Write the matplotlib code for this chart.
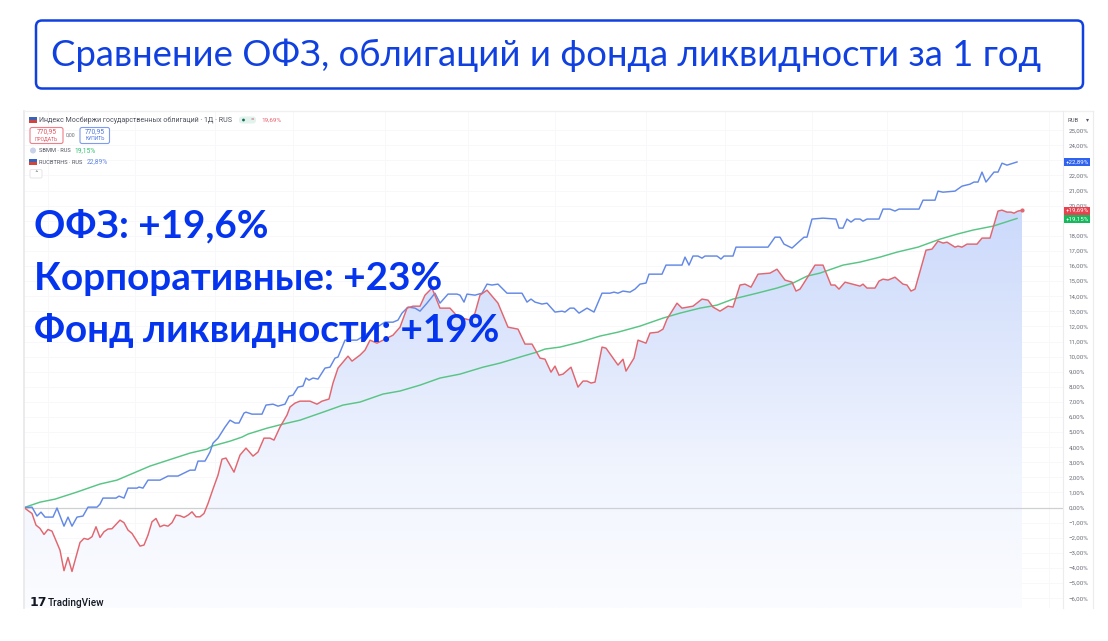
import numpy as np
import matplotlib
matplotlib.use("Agg")
import matplotlib.pyplot as plt
from matplotlib.colors import LinearSegmentedColormap
from matplotlib.patches import FancyBboxPatch, Rectangle, Circle

# bar number / percent change
ofz_bars = [0,2,3,4,5,6,7,9,10,11,12,13,14,15,16,17,18,19,20,21,22,24,25,26,27,29,30,31,32,33,34,35,36,37,38,39,40,41,42,43,44,45,46,47.25,48.5,49.5,50.5,52.5,54,55.5,57.25,58.5,60,61.5,62.5,64,65.75,66.5,67.75,69,71.5,73.25,74.5,76.25,77.25,78.5,81,82,84,85.25,86.5,88.25,89.75,92.25,94,95.75,97.25,99,100.25,102,104,106.5,108.5,111.5,112.75,114,115.75,118.5,121,123.5,125.25,127,129,130.25,131.75,132.75,133.75,134.75,136.75,138.5,139.75,140.75,141.75,142.75,144.5,145.5,148.5,149.75,150.5,152.5,153.5,155.5,156.5,158.5,159.75,160.75,163.25,164.5,167.25,169.5,171,172.25,174,176,177.25,179,180.25,181.75,183.5,186.5,188.25,190.25,192,193,194,195.75,197.75,199.75,201.75,202.75,203.75,205.25,209,209.75,210.75,212.75,213.75,214.75,216,217.75,219.75,220.75,221.75,222.75,225.5,227,228.5,229.75,230.75,232.75,233.5,234.5,235.75,238.25,239.5,241.5,243.5,244.5,245.75,246.75,247.5,248.5,249.5]
ofz_values = [0,-0.39,-1.16,-1.38,-1.78,-1.45,-1.56,-2.82,-4.18,-3.3,-4.23,-3.26,-2.31,-2.04,-2.11,-1.93,-1.27,-1.98,-1.6,-1.42,-1.4,-0.83,-1.0,-1.49,-1.71,-2.55,-2.48,-1.82,-0.94,-0.72,-1.27,-1.16,-1.23,-1.0,-0.5,-0.54,-0.65,-0.5,-0.28,-0.61,-0.61,-0.39,0.27,1.23,2.15,3.21,3.28,2.35,3.48,3.94,3.41,3.68,4.6,4.6,4.47,5.33,6.13,6.66,6.92,7.05,7.05,6.85,7.05,7.19,8.25,9.24,10.03,9.7,10.1,10.43,11.09,10.89,11.09,11.42,11.95,13.21,13.34,13.34,14.07,14.54,13.21,13.21,12.62,12.42,12.88,14.07,14.4,13.54,11.95,11.82,10.83,10.83,9.9,9.83,8.97,9.37,8.77,8.84,9.3,7.98,8.38,8.38,8.25,8.31,10.63,10.56,9.44,9.83,9.04,9.9,11.09,10.89,11.56,11.62,11.82,12.48,13.54,13.21,13.34,13.81,13.74,13.28,13.01,13.34,13.28,14.74,14.8,14.6,15.46,15.53,15.79,15.07,14.93,14.34,14.47,15.2,16.06,16.06,14.74,14.74,14.47,14.93,14.67,14.8,14.54,14.54,15.0,15.13,15.07,15.26,14.8,14.74,14.34,14.47,17.05,17.12,17.65,17.52,17.58,17.25,17.32,17.25,17.45,17.45,17.85,17.85,19.64,19.7,19.57,19.57,19.5,19.64,19.69]

corp_bars = [0,2,3.25,4.25,5.25,7.25,8.25,10,11,12,13.25,14.75,16,18.25,19,19.75,23,23.75,25,26,28.25,28.75,29.75,31,34,36,38.5,41.5,42.75,43.5,45.25,46.5,47.25,48.5,50.25,51.5,52.75,53.75,55,55.5,57,59.5,60.5,62.25,63.5,65.25,66.25,67.25,68.5,69.75,70.5,71.25,72.25,73.5,75.25,76.5,77.75,78.5,80.25,83.25,85.25,87,90.25,92.25,93.5,94.5,96,97.75,99,100.75,102.75,104,106,108.25,109,110,110.75,112.75,114.5,115.75,117,118.5,120.75,124.5,125.75,126.75,127.75,129.5,130.75,132.75,134.5,135.25,136.5,137.5,138.75,140.75,142.5,144.5,146.5,147.5,148.5,149.75,151.5,152.75,154,155.5,156.25,159.5,160.5,164.5,165.25,166.25,167.25,168.5,169.5,170.25,173.25,174.25,175,177.25,178,179.75,186,187.75,189,190,192,195,195.75,197,199.75,203,203.75,204.75,205.75,206.75,207.75,209,209.75,210.75,213.75,214.75,216.5,217.75,218.75,223.75,224.75,227.75,228.5,229.75,232.75,234.5,236.5,237.5,238.5,239.5,240.5,242.5,243.5,244.5,245.75,248.25]
corp_values = [0,0.03,-0.56,-0.3,-0.63,-0.63,-0.03,-1.23,-0.63,-1.23,-0.63,-0.56,0.03,0.03,0.23,0.63,0.63,0.76,0.63,1.29,1.29,1.36,1.29,1.82,1.82,2.09,2.09,2.48,2.48,3.08,3.08,3.68,4.27,4.6,5.33,5.79,5.6,5.6,6.26,6.32,6.19,6.19,6.79,6.85,6.72,6.85,7.38,7.45,7.98,8.05,8.58,8.44,8.58,8.51,9.24,9.3,9.9,9.97,11.09,11.09,11.42,11.75,12.28,12.28,12.42,12.88,13.28,13.21,13.01,13.54,14.2,13.54,14.14,14.14,14.07,13.61,14.14,14.07,14.2,14.8,14.74,14.8,14.2,14.2,13.61,13.81,13.61,13.48,13.54,12.95,13.01,12.95,13.21,13.21,12.88,13.21,12.95,14.2,14.2,14.27,14.2,14.34,14.27,14.47,14.8,14.87,15.46,15.46,16.06,16.06,16.59,16.06,16.66,16.66,16.52,16.66,16.66,16.46,16.66,16.66,17.25,17.25,17.25,17.91,17.91,17.45,17.19,17.91,17.91,19.11,19.17,19.11,18.51,18.51,19.11,18.91,19.11,19.11,18.97,19.11,19.11,19.77,19.77,19.64,19.77,19.77,20.36,20.36,20.96,20.89,20.96,21.29,21.42,21.56,21.56,22.22,21.56,22.22,22.22,22.81,22.68,22.89]

fund_bars = [0,4,7.75,13.25,19,23.25,31.5,41.5,45.75,47,51.5,54.5,56,60.75,64.75,69,74.75,79.75,84,89.75,94,99,104,109,114.75,119,124.75,128.25,130.25,134,139,144,148.5,154,159.75,164,169,173.25,177.25,183.25,188.25,192.25,195.75,199,204.75,209,214,218.25,223.5,229,233.25,237.25,242.25,248.25]
fund_values = [0,0.36,0.56,1.03,1.56,1.82,2.75,3.61,3.87,4.07,4.4,4.67,4.87,5.26,5.53,5.79,6.32,6.79,6.99,7.52,7.72,8.11,8.58,8.84,9.3,9.57,10.03,10.3,10.5,10.63,10.96,11.36,11.62,12.02,12.55,12.88,13.21,13.41,13.81,14.2,14.54,14.87,15.33,15.53,16.06,16.26,16.59,16.92,17.25,17.78,18.11,18.38,18.64,19.15]

grid_bars = [6,27.75,47.75,67.25,90.25,111,132.75,155.5,175.25,197,215.75,234.5,256.25]
y_ticks = list(range(-6, 26))
# 23% and 19% sit under the price boxes on the scale, so no label there
y_labels = ["" if v in (23, 19) else f"{v},00%".replace("-", "\u2212") for v in y_ticks]

title = "Сравнение ОФЗ, облигаций и фонда ликвидности за 1 год"
summary = ["ОФЗ: +19,6%", "Корпоративные: +23%", "Фонд ликвидности: +19%"]

W, H = 1108, 641
RED, BLUE, GREEN = "#e2666f", "#6389e6", "#58c585"
TITLE_BLUE = "#1040e0"
BIG_FONT = ["Lato", "Noto Sans", "DejaVu Sans"]
SMALL_FONT = ["Roboto", "Noto Sans", "DejaVu Sans"]

fig = plt.figure(figsize=(W / 100, H / 100), dpi=100, facecolor="white")

# chart panel, placed in pixels
left, right, top, bottom = 24, 1063, 112, 608
ax = fig.add_axes([left / W, 1 - bottom / H, (right - left) / W, (bottom - top) / H])
ax.set_xticks(grid_bars)
ax.set_yticks(y_ticks)
ax.set_yticklabels(y_labels, fontsize=4.4, color="#6a6d78", family=SMALL_FONT)
ax.yaxis.tick_right()
ax.tick_params(axis="both", length=0, labelbottom=False, pad=4)
ax.grid(True, color="#f8f8fa", lw=0.7)
ax.set_axisbelow(True)
for s in ax.spines.values():
    s.set_visible(False)

# area under the red line, gradient from the top down
grad = LinearSegmentedColormap.from_list(
    "area", ["#fbfcff", "#f1f5fe", "#dde6fc", "#cbd9fb"], N=256)
poly = ax.fill_between(ofz_bars, ofz_values, -6.65, color="none")
im = ax.imshow(np.linspace(1, 0, 256).reshape(-1, 1), cmap=grad, aspect="auto",
               extent=[0, 249.5, -6.65, 19.8], zorder=1.5)
im.set_clip_path(poly.get_paths()[0], transform=ax.transData)
ax.set_xlim(0, 259.75)
ax.set_ylim(-6.65, 26.2)

ax.axhline(0, color="#cfd0d4", lw=0.9, zorder=2)
ax.plot(fund_bars, fund_values, color=GREEN, lw=1.05, zorder=3)
ax.plot(corp_bars, corp_values, color=BLUE, lw=1.05, zorder=3)
ax.plot(ofz_bars, ofz_values, color=RED, lw=1.05, zorder=4)
ax.plot(ofz_bars[-1], ofz_values[-1], "o", color=RED, ms=2, zorder=5)

# overlay in pixel coordinates for everything that sits around the chart
ov = fig.add_axes([0, 0, 1, 1], facecolor="none")
ov.set_xlim(0, W)
ov.set_ylim(H, 0)
ov.axis("off")

ov.add_patch(FancyBboxPatch((36, 20.5), 1047, 68, boxstyle="round,pad=0,rounding_size=6",
                            fc="white", ec=TITLE_BLUE, lw=1.8))
ov.text(51, 55, title, fontsize=26.3, color=TITLE_BLUE, va="center", ha="left", family=BIG_FONT)

for y, s in zip([226, 279, 331], summary):
    ov.text(34, y, s, fontsize=27.8, fontweight="bold", color="#0434ee", va="center", ha="left",
            family=BIG_FONT, zorder=10)

# panel frame
ov.plot([23.5, 23.5], [111, 608], color="#e8e8ea", lw=1.2)
ov.plot([23.5, 1093], [111, 111], color="#f0f0f2", lw=1.0)
ov.plot([1063, 1063], [111, 608], color="#ececee", lw=0.8)
ov.plot([1093, 1093], [111, 608], color="#ececee", lw=0.8)

ov.add_patch(Rectangle((1064, 113), 29, 13, fc="white", ec="none"))
ov.text(1067, 120, "RUB", fontsize=4.3, color="#555862", va="center", family=SMALL_FONT)
ov.text(1086, 120, "\u25be", fontsize=4.3, color="#555862", va="center", family=SMALL_FONT)

# price labels on the scale
for y, s, c in [(162, "+22,89%", "#2f62ee"), (210.5, "+19,69%", "#e8414f"), (219, "+19,15%", "#16b85c")]:
    ov.add_patch(Rectangle((1064, y - 4), 26, 8, fc=c, ec="none", zorder=6))
    ov.text(1077, y, s, fontsize=4.4, color="white", va="center", ha="center", family=SMALL_FONT, zorder=7)

# legend block
def flag(x, y):
    ov.add_patch(Rectangle((x, y - 3), 8, 3, fc="#3a62b8", ec="none"))
    ov.add_patch(Rectangle((x, y), 8, 3, fc="#d2453f", ec="none"))

flag(29, 120)
ov.text(39, 120, "Индекс Мосбиржи государственных облигаций · 1Д · RUS", fontsize=5.15, color="#50535e",
        va="center", family=SMALL_FONT)
ov.add_patch(FancyBboxPatch((239, 116.5), 17, 7, boxstyle="round,pad=0,rounding_size=3", fc="#e2f2ec", ec="none"))
ov.add_patch(Circle((243.5, 120), 1.4, fc="#0f6b54", ec="none"))
ov.text(252, 120, "=", fontsize=4.5, color="#d0506a", va="center", ha="center", family=SMALL_FONT)
ov.text(261, 120, "19,69%", fontsize=4.6, color="#e8606c", va="center", family=SMALL_FONT)

ov.add_patch(FancyBboxPatch((30, 127.5), 33, 16, boxstyle="round,pad=0,rounding_size=2", fc="white", ec="#ee7f88", lw=0.8))
ov.text(46.5, 131.5, "770,95", fontsize=4.8, color="#e5525e", va="center", ha="center", family=SMALL_FONT)
ov.text(46.5, 138.5, "ПРОДАТЬ", fontsize=3.6, color="#e5525e", va="center", ha="center", family=SMALL_FONT)
ov.text(71, 135.5, "0,00", fontsize=3.8, color="#6a6d78", va="center", ha="center", family=SMALL_FONT)
ov.add_patch(FancyBboxPatch((80, 127.5), 29.5, 16, boxstyle="round,pad=0,rounding_size=2", fc="white", ec="#7d9cf0", lw=0.8))
ov.text(95, 131.5, "770,95", fontsize=4.8, color="#4a74e0", va="center", ha="center", family=SMALL_FONT)
ov.text(95, 138.5, "КУПИТЬ", fontsize=3.6, color="#4a74e0", va="center", ha="center", family=SMALL_FONT)

ov.add_patch(Circle((33, 150.5), 3, fc="#c8d2e8", ec="none"))
ov.text(39, 150.5, "SBMM · RUS", fontsize=4.1, color="#50535e", va="center", family=SMALL_FONT)
ov.text(74, 150.5, "19,15%", fontsize=4.8, color="#2fc070", va="center", family=SMALL_FONT)
flag(29, 162)
ov.text(39, 162, "RUCBTRHS · RUS", fontsize=4.1, color="#50535e", va="center", family=SMALL_FONT)
ov.text(87, 162, "22,89%", fontsize=4.8, color="#5f86e6", va="center", family=SMALL_FONT)
ov.add_patch(FancyBboxPatch((30, 169.5), 12, 8.5, boxstyle="round,pad=0,rounding_size=1.5", fc="white", ec="#e2e2e6", lw=0.6))
ov.text(36, 174, "\u02c4", fontsize=5, color="#333333", va="center", ha="center", family="DejaVu Sans")

# watermark
ov.text(30, 602.5, "17", fontsize=9, fontweight="heavy", color="#131722", va="center", family="DejaVu Sans")
ov.text(48, 602.5, "TradingView", fontsize=7.2, fontweight="medium", color="#131722", va="center", family=SMALL_FONT)

fig.savefig("out.png", dpi=100)
